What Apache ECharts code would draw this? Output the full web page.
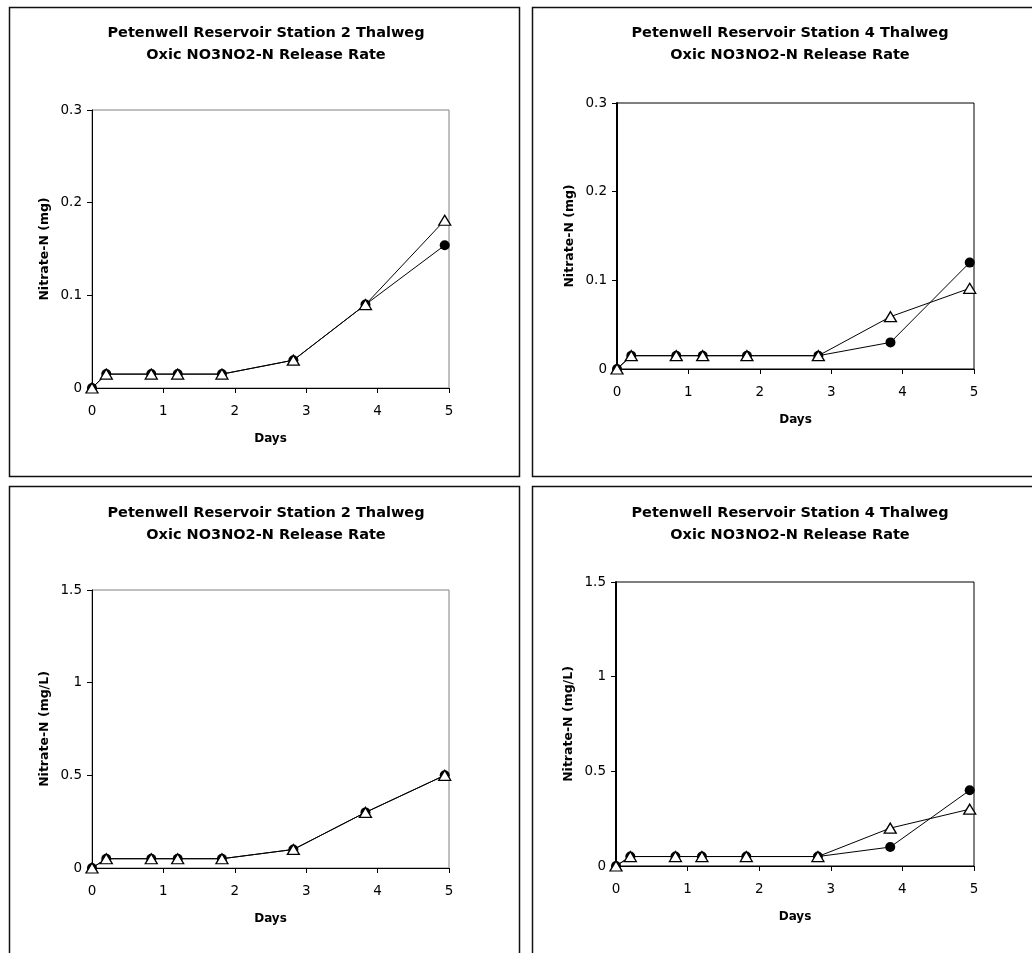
<!DOCTYPE html>
<html>
<head>
<meta charset="utf-8">
<script src="https://cdn.jsdelivr.net/npm/echarts@6/dist/echarts.min.js"></script>
<style>
html,body{margin:0;padding:0;background:#fff;}
#c{width:1032px;height:953px;}
</style>
</head>
<body>
<div id="c"></div>
<script>
// Days of sampling
var days = [0, 0.2, 0.83, 1.2, 1.82, 2.82, 3.83, 4.94];
// Station 2, mass (mg)
var st2MgCircle   = [0, 0.015, 0.015, 0.015, 0.015, 0.03, 0.09, 0.154];
var st2MgTriangle = [0, 0.015, 0.015, 0.015, 0.015, 0.03, 0.09, 0.181];
// Station 4, mass (mg)
var st4MgCircle   = [0, 0.015, 0.015, 0.015, 0.015, 0.015, 0.03, 0.12];
var st4MgTriangle = [0, 0.015, 0.015, 0.015, 0.015, 0.015, 0.059, 0.091];
// Station 2, concentration (mg/L)
var st2ConcCircle   = [0, 0.05, 0.05, 0.05, 0.05, 0.1, 0.3, 0.5];
var st2ConcTriangle = [0, 0.05, 0.05, 0.05, 0.05, 0.1, 0.3, 0.5];
// Station 4, concentration (mg/L)
var st4ConcCircle   = [0, 0.05, 0.05, 0.05, 0.05, 0.05, 0.1, 0.4];
var st4ConcTriangle = [0, 0.05, 0.05, 0.05, 0.05, 0.05, 0.2, 0.3];

var titles = [
  'Petenwell Reservoir Station 2 Thalweg\nOxic NO3NO2-N Release Rate',
  'Petenwell Reservoir Station 4 Thalweg\nOxic NO3NO2-N Release Rate',
  'Petenwell Reservoir Station 2 Thalweg\nOxic NO3NO2-N Release Rate',
  'Petenwell Reservoir Station 4 Thalweg\nOxic NO3NO2-N Release Rate'
];
var yNames = ['Nitrate-N (mg)', 'Nitrate-N (mg)', 'Nitrate-N (mg/L)', 'Nitrate-N (mg/L)'];
var yMax = [0.3, 0.3, 1.5, 1.5];
var yInterval = [0.1, 0.1, 0.5, 0.5];
var circles = [st2MgCircle, st4MgCircle, st2ConcCircle, st4ConcCircle];
var triangles = [st2MgTriangle, st4MgTriangle, st2ConcTriangle, st4ConcTriangle];

var FONT = 'DejaVu Sans';
var grids = [
  {left: 92, top: 110, width: 357, height: 278},
  {left: 617, top: 103, width: 357, height: 266},
  {left: 92, top: 590, width: 357, height: 278},
  {left: 616, top: 582, width: 358, height: 284}
];
var borderColors = ['#808080', '#000', '#808080', '#000'];
var leftWidths = [1, 2, 1, 2];
var titlePos = [
  {left: 266, top: 22}, {left: 790, top: 22},
  {left: 266, top: 502}, {left: 790, top: 502}
];

function pairs(xs, ys) {
  return xs.map(function (x, i) { return [x, ys[i]]; });
}

var option = {
  backgroundColor: '#fff',
  animation: false,
  title: titles.map(function (t, i) {
    return {
      text: t, left: titlePos[i].left, top: titlePos[i].top, textAlign: 'center', padding: 0,
      textStyle: {fontFamily: FONT, fontSize: 14.5, fontWeight: 'bold', color: '#000', lineHeight: 22}
    };
  }),
  grid: grids.map(function (g, i) {
    return {left: g.left, top: g.top, width: g.width, height: g.height, show: true,
      borderColor: borderColors[i], borderWidth: 1, backgroundColor: 'transparent', containLabel: false};
  }),
  xAxis: grids.map(function (g, i) {
    return {
      type: 'value', gridIndex: i, min: 0, max: 5, interval: 1,
      name: 'Days', nameLocation: 'middle', nameGap: 45,
      nameTextStyle: {fontFamily: FONT, fontSize: 12, fontWeight: 'bold', color: '#000'},
      axisLine: {show: true, onZero: false, lineStyle: {color: '#000', width: 1}},
      axisTick: {show: true, inside: false, length: 5, lineStyle: {color: '#000'}},
      axisLabel: {fontFamily: FONT, fontSize: 13.5, color: '#000', margin: 16},
      splitLine: {show: false}
    };
  }),
  yAxis: grids.map(function (g, i) {
    return {
      type: 'value', gridIndex: i, min: 0, max: yMax[i], interval: yInterval[i],
      name: yNames[i], nameLocation: 'middle', nameGap: 41, nameRotate: 90,
      nameTextStyle: {fontFamily: FONT, fontSize: 12.5, fontWeight: 'bold', color: '#000'},
      axisLine: {show: true, onZero: false, lineStyle: {color: '#000', width: leftWidths[i]}},
      axisTick: {show: true, inside: false, length: 5, lineStyle: {color: '#000'}},
      axisLabel: {fontFamily: FONT, fontSize: 13.5, color: '#000', margin: 10},
      splitLine: {show: false}
    };
  }),
  series: [],
  graphic: [
    {type: 'rect', shape: {x: 9.5, y: 7.5, width: 510, height: 469}, style: {fill: 'none', stroke: '#111', lineWidth: 1.5}, silent: true},
    {type: 'rect', shape: {x: 532.5, y: 7.5, width: 560, height: 469}, style: {fill: 'none', stroke: '#111', lineWidth: 1.5}, silent: true},
    {type: 'rect', shape: {x: 9.5, y: 486.5, width: 510, height: 520}, style: {fill: 'none', stroke: '#111', lineWidth: 1.5}, silent: true},
    {type: 'rect', shape: {x: 532.5, y: 486.5, width: 560, height: 520}, style: {fill: 'none', stroke: '#111', lineWidth: 1.5}, silent: true}
  ]
};

for (var i = 0; i < 4; i++) {
  option.series.push({
    type: 'line', xAxisIndex: i, yAxisIndex: i, data: pairs(days, circles[i]),
    symbol: 'circle', symbolSize: 10, showAllSymbol: true, z: 2,
    lineStyle: {color: '#000', width: 1},
    itemStyle: {color: '#000', borderColor: '#000', borderWidth: 0}
  });
  option.series.push({
    type: 'line', xAxisIndex: i, yAxisIndex: i, data: pairs(days, triangles[i]),
    symbol: 'triangle', symbolSize: [12, 10], showAllSymbol: true, z: 3,
    lineStyle: {color: '#000', width: 1},
    itemStyle: {color: '#fff', borderColor: '#000', borderWidth: 1.3}
  });
}

var chart = echarts.init(document.getElementById('c'), null, {renderer: 'canvas'});
chart.setOption(option);
</script>
</body>
</html>
